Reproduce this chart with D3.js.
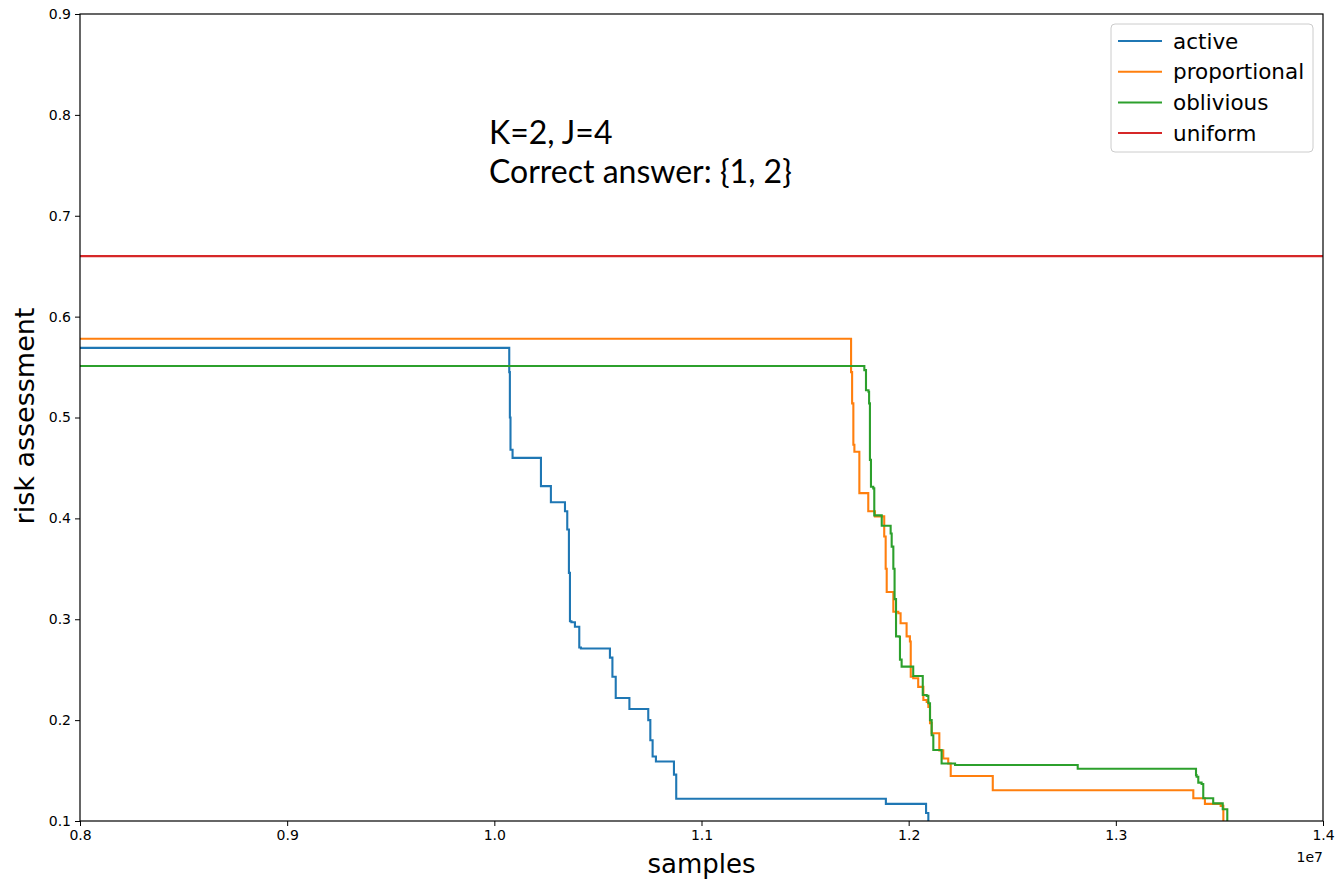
<!DOCTYPE html>
<html><head><meta charset="utf-8">
<script src="https://cdn.jsdelivr.net/npm/d3@7"></script>
<style>body{margin:0;background:#fff;}</style>
</head><body><svg id="c" width="1338" height="881" style="font-family:'DejaVu Sans',sans-serif"></svg>
<script>
// x in units of 1e7 samples; step-after change points
const activeX = [0.80,1.0072,1.0075,1.0078,1.0088,1.0225,1.0273,1.0341,1.0352,1.0360,1.0365,1.0372,1.0389,1.0410,1.0418,1.0475,1.0558,1.0570,1.0586,1.0652,1.0743,1.0753,1.0764,1.0780,1.0867,1.0878,1.1890,1.2084,1.2095];
const activeY = [0.569,0.545,0.500,0.468,0.460,0.432,0.416,0.407,0.389,0.346,0.298,0.297,0.2925,0.272,0.271,0.271,0.262,0.243,0.222,0.211,0.200,0.180,0.164,0.159,0.146,0.122,0.117,0.108,0.09];
const propX = [0.80,1.1722,1.1727,1.1733,1.1738,1.1762,1.1805,1.1837,1.1882,1.1889,1.1894,1.1926,1.1950,1.1961,1.1990,1.2006,1.2010,1.2022,1.2046,1.2071,1.2087,1.2095,1.2103,1.2111,1.2148,1.2167,1.2191,1.2203,1.2406,1.3374,1.3430,1.3506,1.3519];
const propY = [0.578,0.545,0.514,0.473,0.466,0.425,0.407,0.402,0.382,0.350,0.327,0.3075,0.306,0.296,0.283,0.278,0.243,0.2415,0.233,0.220,0.218,0.213,0.197,0.187,0.170,0.162,0.157,0.1446,0.1305,0.1225,0.117,0.115,0.09];
const oblX = [0.80,1.1786,1.1794,1.1806,1.1809,1.1813,1.1818,1.1829,1.1834,1.1870,1.1913,1.1918,1.1926,1.1932,1.1939,1.1955,1.1958,1.1966,1.2022,1.2068,1.2087,1.2095,1.2103,1.2111,1.2119,1.2159,1.2224,1.2816,1.3387,1.3390,1.3398,1.3414,1.3422,1.3470,1.3516,1.3538];
const oblY = [0.551,0.547,0.527,0.5255,0.514,0.458,0.4314,0.4297,0.403,0.3927,0.385,0.372,0.350,0.320,0.283,0.2827,0.260,0.253,0.2437,0.2249,0.224,0.2167,0.200,0.185,0.1704,0.157,0.1555,0.1518,0.1455,0.1439,0.138,0.1367,0.1225,0.1175,0.1116,0.09];
const uniformX = [0.80,1.40];
const uniformY = [0.66,0.66];
const seriesNames = ["active","proportional","oblivious","uniform"];
const colors = ["#1f77b4","#ff7f0e","#2ca02c","#d62728"];
const xTicks = [0.8,0.9,1.0,1.1,1.2,1.3,1.4];
const yTicks = [0.1,0.2,0.3,0.4,0.5,0.6,0.7,0.8,0.9];

const L=80,R=1323,T=14,B=821;
const svg=d3.select("#c");
const x=d3.scaleLinear().domain([0.8,1.4]).range([L,R]);
const y=d3.scaleLinear().domain([0.1,0.9]).range([B,T]);

svg.append("clipPath").attr("id","clip").append("rect").attr("x",L).attr("y",T).attr("width",R-L).attr("height",B-T);

const series=[[activeX,activeY],[propX,propY],[oblX,oblY],[uniformX,uniformY]];
const line=d3.line().x(d=>x(d[0])).y(d=>y(d[1])).curve(d3.curveStepAfter);
const g=svg.append("g").attr("clip-path","url(#clip)");
series.forEach((s,i)=>{
  const pts=s[0].map((v,j)=>[v,s[1][j]]);
  g.append("path").attr("d",line(pts)).attr("fill","none").attr("stroke",colors[i]).attr("stroke-width",2.1);
});

const xa=svg.append("g").attr("transform",`translate(0,${B})`).call(d3.axisBottom(x).tickValues(xTicks).tickFormat(d3.format(".1f")).tickSize(5).tickPadding(4));
const ya=svg.append("g").attr("transform",`translate(${L},0)`).call(d3.axisLeft(y).tickValues(yTicks).tickFormat(d3.format(".1f")).tickSize(5).tickPadding(4));
[xa,ya].forEach(a=>{a.select(".domain").remove();a.attr("font-size",null).attr("font-family",null);a.selectAll("text").style("font-size","14px").style("font-family","'DejaVu Sans'").attr("fill","#000");a.selectAll("line").attr("stroke","#000");});
svg.append("rect").attr("x",L).attr("y",T).attr("width",R-L).attr("height",B-T).attr("fill","none").attr("stroke","#000").attr("stroke-width",1.2);

svg.append("text").attr("x",R).attr("y",862).attr("text-anchor","end").style("font-size","14px").text("1e7");
svg.append("text").attr("x",(L+R)/2).attr("y",873).attr("text-anchor","middle").style("font-size","26px").text("samples");
svg.append("text").attr("transform",`translate(34,${416}) rotate(-90)`).attr("text-anchor","middle").style("font-size","27px").text("risk assessment");

svg.append("text").attr("x",489).attr("y",144).style("font-family","Lato").style("font-size","32px").text("K=2, J=4");
svg.append("text").attr("x",489).attr("y",183).style("font-family","Lato").style("font-size","32px").text("Correct answer: {1, 2}");

const lg=svg.append("g");
lg.append("rect").attr("x",1111).attr("y",24).attr("width",202).attr("height",128).attr("rx",4).attr("fill","#fff").attr("fill-opacity",0.8).attr("stroke","#ccc");
seriesNames.forEach((n,i)=>{
  const yy=41+i*30.7;
  lg.append("line").attr("x1",1118).attr("x2",1162).attr("y1",yy).attr("y2",yy).attr("stroke",colors[i]).attr("stroke-width",2);
  lg.append("text").attr("x",1173).attr("y",yy).attr("dy","0.35em").style("font-size","21.5px").text(n);
});
</script></body></html>
